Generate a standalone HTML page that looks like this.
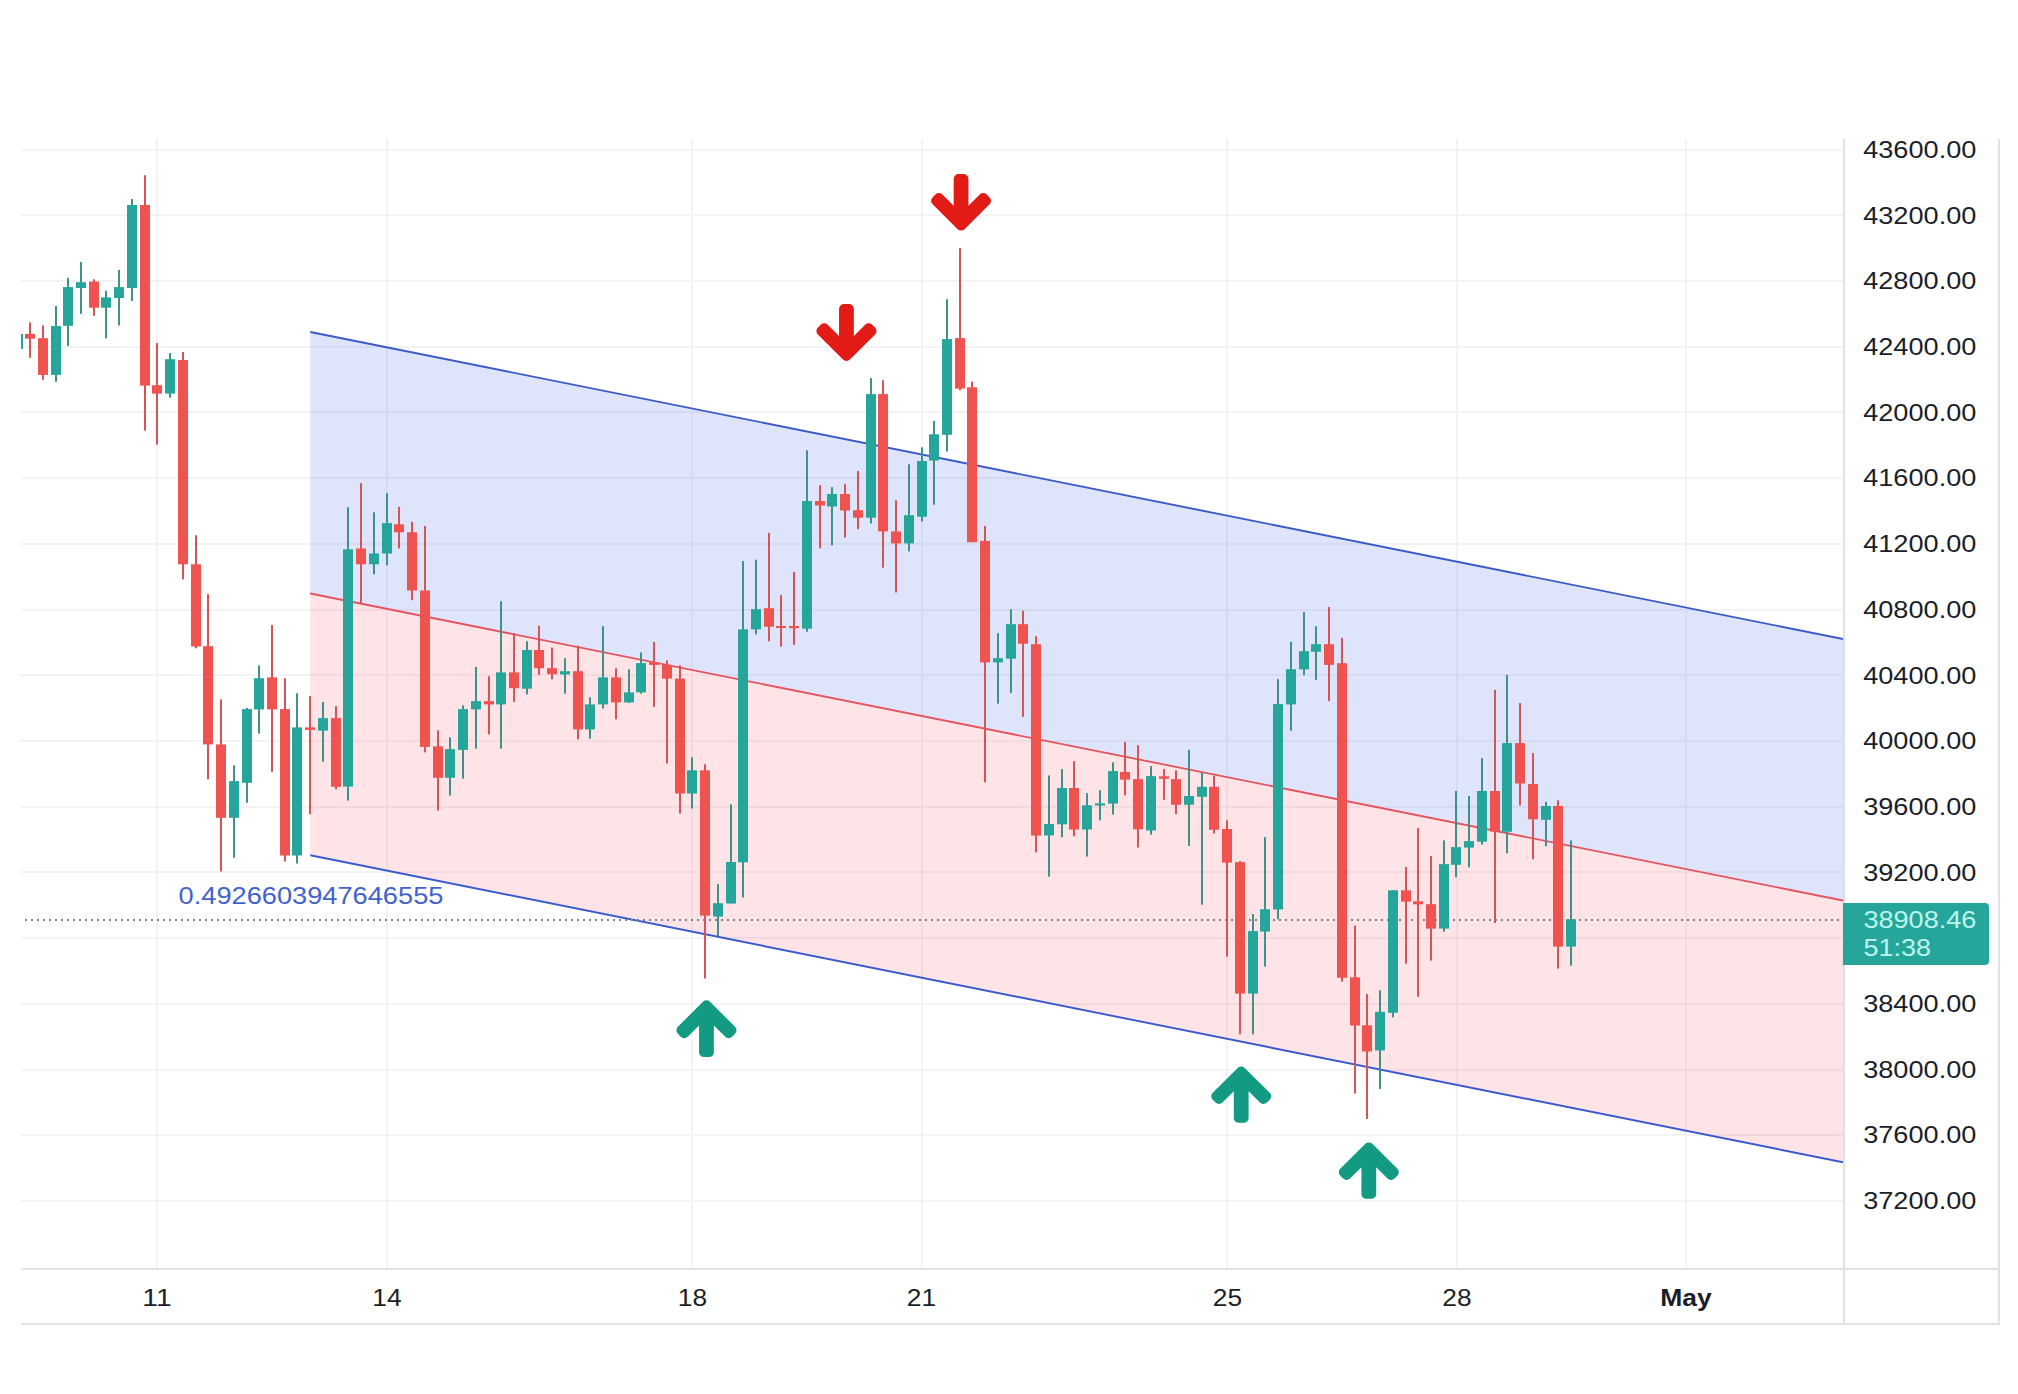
<!DOCTYPE html>
<html lang="en"><head><meta charset="utf-8"><title>Chart</title>
<style>html,body{margin:0;padding:0;background:#fff}body{width:2018px;height:1394px;overflow:hidden}svg text{white-space:pre}</style>
</head><body>
<svg width="2018" height="1394" viewBox="0 0 2018 1394" style="display:block">
<rect width="2018" height="1394" fill="#fff"/>
<defs><clipPath id="plot"><rect x="21" y="139" width="1822" height="1129"/></clipPath></defs>
<g stroke="#f3f3f5" stroke-width="2" shape-rendering="crispEdges">
<line x1="21" x2="1843" y1="150" y2="150"/>
<line x1="21" x2="1843" y1="215" y2="215"/>
<line x1="21" x2="1843" y1="281" y2="281"/>
<line x1="21" x2="1843" y1="347" y2="347"/>
<line x1="21" x2="1843" y1="412" y2="412"/>
<line x1="21" x2="1843" y1="478" y2="478"/>
<line x1="21" x2="1843" y1="544" y2="544"/>
<line x1="21" x2="1843" y1="610" y2="610"/>
<line x1="21" x2="1843" y1="675" y2="675"/>
<line x1="21" x2="1843" y1="741" y2="741"/>
<line x1="21" x2="1843" y1="807" y2="807"/>
<line x1="21" x2="1843" y1="872" y2="872"/>
<line x1="21" x2="1843" y1="938" y2="938"/>
<line x1="21" x2="1843" y1="1004" y2="1004"/>
<line x1="21" x2="1843" y1="1070" y2="1070"/>
<line x1="21" x2="1843" y1="1135" y2="1135"/>
<line x1="21" x2="1843" y1="1201" y2="1201"/>
<line x1="157" x2="157" y1="139" y2="1268"/>
<line x1="387" x2="387" y1="139" y2="1268"/>
<line x1="692" x2="692" y1="139" y2="1268"/>
<line x1="922" x2="922" y1="139" y2="1268"/>
<line x1="1227" x2="1227" y1="139" y2="1268"/>
<line x1="1457" x2="1457" y1="139" y2="1268"/>
<line x1="1686" x2="1686" y1="139" y2="1268"/>
</g>
<g clip-path="url(#plot)">
<polygon points="310.3,332.0 1843,639.0 1843,900.5 310.3,593.5" fill="#2352e4" fill-opacity="0.15"/>
<polygon points="310.3,593.5 1843,900.5 1843,1162.2 310.3,855.2" fill="#f83e4c" fill-opacity="0.14"/>
<line x1="310.3" y1="593.5" x2="1843" y2="900.5" stroke="#e2545f" stroke-width="1.8"/>
<line x1="310.3" y1="332.0" x2="1843" y2="639.0" stroke="#3a5acc" stroke-width="1.9"/>
<line x1="310.3" y1="855.2" x2="1843" y2="1162.2" stroke="#3a5acc" stroke-width="1.9"/>
<line x1="25" x2="1843" y1="920" y2="920" stroke="#788788" stroke-width="2" stroke-dasharray="2 4" shape-rendering="crispEdges"/>
<g fill="#3f9189"><rect x="55" y="306.0" width="2" height="75.8"/><rect x="67" y="277.9" width="2" height="68.0"/><rect x="80" y="262.1" width="2" height="51.7"/><rect x="105" y="290.8" width="2" height="47.4"/><rect x="118" y="269.9" width="2" height="55.4"/><rect x="131" y="199.0" width="2" height="101.9"/><rect x="169" y="353.1" width="2" height="44.5"/><rect x="233" y="765.3" width="2" height="92.4"/><rect x="246" y="707.9" width="2" height="94.9"/><rect x="258" y="665.4" width="2" height="68.2"/><rect x="296" y="693.2" width="2" height="170.3"/><rect x="322" y="701.9" width="2" height="59.9"/><rect x="347" y="507.3" width="2" height="293.2"/><rect x="373" y="512.3" width="2" height="62.0"/><rect x="386" y="493.1" width="2" height="72.2"/><rect x="449" y="737.4" width="2" height="58.2"/><rect x="462" y="705.4" width="2" height="73.2"/><rect x="475" y="666.9" width="2" height="81.7"/><rect x="500" y="601.2" width="2" height="147.4"/><rect x="526" y="641.2" width="2" height="53.2"/><rect x="564" y="658.2" width="2" height="35.5"/><rect x="589" y="697.4" width="2" height="41.2"/><rect x="602" y="626.2" width="2" height="82.4"/><rect x="628" y="669.3" width="2" height="33.6"/><rect x="640" y="652.4" width="2" height="41.2"/><rect x="691" y="757.3" width="2" height="51.2"/><rect x="717" y="884.1" width="2" height="51.9"/><rect x="730" y="804.3" width="2" height="99.2"/><rect x="742" y="561.0" width="2" height="336.5"/><rect x="755" y="559.7" width="2" height="74.7"/><rect x="806" y="450.3" width="2" height="181.4"/><rect x="831" y="487.2" width="2" height="58.2"/><rect x="870" y="378.1" width="2" height="145.4"/><rect x="908" y="464.3" width="2" height="87.1"/><rect x="921" y="447.3" width="2" height="74.2"/><rect x="933" y="421.0" width="2" height="83.7"/><rect x="946" y="299.2" width="2" height="152.3"/><rect x="997" y="633.2" width="2" height="70.4"/><rect x="1010" y="609.2" width="2" height="83.7"/><rect x="1048" y="775.4" width="2" height="101.2"/><rect x="1061" y="769.1" width="2" height="68.2"/><rect x="1086" y="793.1" width="2" height="63.5"/><rect x="1099" y="790.1" width="2" height="30.3"/><rect x="1112" y="762.4" width="2" height="52.2"/><rect x="1150" y="766.1" width="2" height="68.6"/><rect x="1188" y="749.8" width="2" height="96.2"/><rect x="1201" y="772.3" width="2" height="132.4"/><rect x="1252" y="914.0" width="2" height="120.3"/><rect x="1264" y="837.1" width="2" height="129.5"/><rect x="1277" y="679.2" width="2" height="240.1"/><rect x="1290" y="641.9" width="2" height="88.9"/><rect x="1303" y="612.0" width="2" height="63.4"/><rect x="1315" y="626.2" width="2" height="53.7"/><rect x="1379" y="990.3" width="2" height="98.7"/><rect x="1392" y="890.3" width="2" height="127.0"/><rect x="1443" y="840.4" width="2" height="91.2"/><rect x="1455" y="791.0" width="2" height="86.3"/><rect x="1468" y="796.0" width="2" height="71.3"/><rect x="1481" y="758.1" width="2" height="86.5"/><rect x="1506" y="674.9" width="2" height="178.4"/><rect x="1545" y="801.8" width="2" height="44.5"/><rect x="1570" y="840.4" width="2" height="125.2"/></g><g fill="#d4545a"><rect x="29" y="322.4" width="2" height="35.3"/><rect x="42" y="325.3" width="2" height="54.5"/><rect x="93" y="279.3" width="2" height="36.5"/><rect x="144" y="175.2" width="2" height="255.5"/><rect x="156" y="343.0" width="2" height="101.6"/><rect x="182" y="352.0" width="2" height="227.3"/><rect x="195" y="535.3" width="2" height="113.0"/><rect x="207" y="594.2" width="2" height="185.1"/><rect x="220" y="699.4" width="2" height="172.1"/><rect x="271" y="625.0" width="2" height="146.8"/><rect x="284" y="678.2" width="2" height="183.3"/><rect x="309" y="696.2" width="2" height="118.1"/><rect x="335" y="706.1" width="2" height="83.2"/><rect x="360" y="483.1" width="2" height="120.4"/><rect x="398" y="506.8" width="2" height="41.7"/><rect x="411" y="521.8" width="2" height="78.4"/><rect x="424" y="526.0" width="2" height="226.3"/><rect x="437" y="730.4" width="2" height="80.1"/><rect x="488" y="676.2" width="2" height="58.2"/><rect x="513" y="633.2" width="2" height="68.7"/><rect x="538" y="625.7" width="2" height="49.2"/><rect x="551" y="647.5" width="2" height="31.9"/><rect x="577" y="645.5" width="2" height="93.9"/><rect x="615" y="668.4" width="2" height="50.9"/><rect x="653" y="641.9" width="2" height="65.0"/><rect x="666" y="660.4" width="2" height="103.1"/><rect x="679" y="665.4" width="2" height="148.1"/><rect x="704" y="764.3" width="2" height="214.2"/><rect x="768" y="532.9" width="2" height="108.3"/><rect x="780" y="595.0" width="2" height="51.7"/><rect x="793" y="572.0" width="2" height="72.9"/><rect x="819" y="485.2" width="2" height="63.2"/><rect x="844" y="484.2" width="2" height="53.5"/><rect x="857" y="471.0" width="2" height="58.2"/><rect x="882" y="380.3" width="2" height="187.4"/><rect x="895" y="500.2" width="2" height="92.3"/><rect x="959" y="248.2" width="2" height="142.1"/><rect x="971" y="381.8" width="2" height="160.4"/><rect x="984" y="526.0" width="2" height="256.3"/><rect x="1022" y="610.7" width="2" height="106.1"/><rect x="1035" y="636.2" width="2" height="216.1"/><rect x="1073" y="761.1" width="2" height="75.2"/><rect x="1124" y="741.9" width="2" height="53.4"/><rect x="1137" y="745.2" width="2" height="102.3"/><rect x="1163" y="769.1" width="2" height="30.7"/><rect x="1175" y="770.3" width="2" height="43.7"/><rect x="1213" y="775.6" width="2" height="57.9"/><rect x="1226" y="820.3" width="2" height="136.3"/><rect x="1239" y="861.0" width="2" height="173.3"/><rect x="1328" y="607.0" width="2" height="94.1"/><rect x="1341" y="637.9" width="2" height="343.7"/><rect x="1354" y="925.6" width="2" height="167.9"/><rect x="1366" y="994.1" width="2" height="124.8"/><rect x="1405" y="867.0" width="2" height="96.6"/><rect x="1417" y="828.1" width="2" height="168.7"/><rect x="1430" y="856.1" width="2" height="104.5"/><rect x="1494" y="689.9" width="2" height="233.1"/><rect x="1519" y="703.1" width="2" height="102.4"/><rect x="1532" y="753.1" width="2" height="106.1"/><rect x="1557" y="800.3" width="2" height="168.3"/></g>
<g fill="#26a69a"><rect x="51" y="326.1" width="10" height="48.8"/><rect x="63" y="287.1" width="10" height="38.7"/><rect x="76" y="282.2" width="10" height="5.8"/><rect x="101" y="297.4" width="10" height="10.3"/><rect x="114" y="287.1" width="10" height="10.9"/><rect x="127" y="205.0" width="10" height="83.0"/><rect x="165" y="359.2" width="10" height="34.4"/><rect x="229" y="781.1" width="10" height="36.7"/><rect x="242" y="709.1" width="10" height="73.7"/><rect x="254" y="678.2" width="10" height="31.2"/><rect x="292" y="727.4" width="10" height="128.1"/><rect x="318" y="718.1" width="10" height="12.5"/><rect x="343" y="549.3" width="10" height="237.3"/><rect x="369" y="553.5" width="10" height="10.8"/><rect x="382" y="523.1" width="10" height="30.4"/><rect x="445" y="749.1" width="10" height="28.7"/><rect x="458" y="709.1" width="10" height="40.8"/><rect x="471" y="701.1" width="10" height="8.3"/><rect x="496" y="672.4" width="10" height="32.0"/><rect x="522" y="650.0" width="10" height="38.7"/><rect x="560" y="671.2" width="10" height="3.2"/><rect x="585" y="704.4" width="10" height="25.0"/><rect x="598" y="677.4" width="10" height="27.0"/><rect x="624" y="692.4" width="10" height="10.0"/><rect x="636" y="663.1" width="10" height="29.3"/><rect x="687" y="770.3" width="10" height="23.2"/><rect x="713" y="903.2" width="10" height="13.4"/><rect x="726" y="862.0" width="10" height="41.5"/><rect x="738" y="629.4" width="10" height="232.9"/><rect x="751" y="609.2" width="10" height="20.2"/><rect x="802" y="501.0" width="10" height="127.7"/><rect x="827" y="494.0" width="10" height="12.5"/><rect x="866" y="394.1" width="10" height="123.6"/><rect x="904" y="515.2" width="10" height="28.2"/><rect x="917" y="461.0" width="10" height="55.7"/><rect x="929" y="434.3" width="10" height="26.2"/><rect x="942" y="339.1" width="10" height="95.7"/><rect x="993" y="658.2" width="10" height="4.2"/><rect x="1006" y="624.2" width="10" height="34.5"/><rect x="1044" y="824.1" width="10" height="11.4"/><rect x="1057" y="788.0" width="10" height="36.3"/><rect x="1082" y="805.3" width="10" height="24.2"/><rect x="1095" y="803.3" width="10" height="2.2"/><rect x="1108" y="771.1" width="10" height="32.5"/><rect x="1146" y="776.1" width="10" height="54.4"/><rect x="1184" y="796.0" width="10" height="8.8"/><rect x="1197" y="786.8" width="10" height="10.0"/><rect x="1248" y="931.1" width="10" height="62.5"/><rect x="1260" y="909.2" width="10" height="22.4"/><rect x="1273" y="704.1" width="10" height="205.4"/><rect x="1286" y="669.2" width="10" height="35.2"/><rect x="1299" y="651.2" width="10" height="18.2"/><rect x="1311" y="644.2" width="10" height="7.5"/><rect x="1375" y="1011.8" width="10" height="38.7"/><rect x="1388" y="890.3" width="10" height="122.5"/><rect x="1439" y="864.1" width="10" height="64.5"/><rect x="1451" y="847.1" width="10" height="17.7"/><rect x="1464" y="841.1" width="10" height="6.5"/><rect x="1477" y="791.0" width="10" height="50.7"/><rect x="1502" y="743.1" width="10" height="88.6"/><rect x="1541" y="806.0" width="10" height="13.8"/><rect x="1566" y="919.3" width="10" height="27.3"/><rect x="21" y="334" width="2" height="15"/></g>
<g fill="#ef5350"><rect x="25" y="333.9" width="10" height="4.8"/><rect x="38" y="338.2" width="10" height="36.7"/><rect x="89" y="281.6" width="10" height="26.1"/><rect x="140" y="205.0" width="10" height="180.6"/><rect x="152" y="385.2" width="10" height="8.4"/><rect x="178" y="360.0" width="10" height="204.3"/><rect x="191" y="564.3" width="10" height="82.2"/><rect x="203" y="646.2" width="10" height="98.2"/><rect x="216" y="744.4" width="10" height="73.4"/><rect x="267" y="677.4" width="10" height="32.0"/><rect x="280" y="709.1" width="10" height="146.4"/><rect x="305" y="727.4" width="10" height="2.5"/><rect x="331" y="718.1" width="10" height="68.7"/><rect x="356" y="548.5" width="10" height="15.8"/><rect x="394" y="524.3" width="10" height="8.0"/><rect x="407" y="532.3" width="10" height="58.2"/><rect x="420" y="590.5" width="10" height="156.4"/><rect x="433" y="746.4" width="10" height="31.4"/><rect x="484" y="701.1" width="10" height="3.3"/><rect x="509" y="672.4" width="10" height="15.8"/><rect x="534" y="650.0" width="10" height="18.2"/><rect x="547" y="668.2" width="10" height="6.0"/><rect x="573" y="671.2" width="10" height="58.2"/><rect x="611" y="677.4" width="10" height="25.0"/><rect x="649" y="662.4" width="10" height="2.5"/><rect x="662" y="664.9" width="10" height="13.7"/><rect x="675" y="678.6" width="10" height="114.9"/><rect x="700" y="770.3" width="10" height="145.3"/><rect x="764" y="608.2" width="10" height="18.5"/><rect x="776" y="626.0" width="10" height="2.0"/><rect x="789" y="626.0" width="10" height="2.2"/><rect x="815" y="501.0" width="10" height="4.5"/><rect x="840" y="494.0" width="10" height="16.5"/><rect x="853" y="510.2" width="10" height="7.5"/><rect x="878" y="394.1" width="10" height="137.3"/><rect x="891" y="531.4" width="10" height="12.0"/><rect x="955" y="338.1" width="10" height="50.5"/><rect x="967" y="387.3" width="10" height="154.9"/><rect x="980" y="540.9" width="10" height="121.5"/><rect x="1018" y="624.2" width="10" height="19.5"/><rect x="1031" y="644.2" width="10" height="191.3"/><rect x="1069" y="788.0" width="10" height="41.5"/><rect x="1120" y="771.9" width="10" height="7.7"/><rect x="1133" y="779.1" width="10" height="50.2"/><rect x="1159" y="776.3" width="10" height="2.5"/><rect x="1171" y="779.1" width="10" height="25.7"/><rect x="1209" y="786.8" width="10" height="43.0"/><rect x="1222" y="829.0" width="10" height="33.6"/><rect x="1235" y="862.1" width="10" height="131.5"/><rect x="1324" y="644.2" width="10" height="20.7"/><rect x="1337" y="663.2" width="10" height="314.6"/><rect x="1350" y="977.3" width="10" height="48.2"/><rect x="1362" y="1025.3" width="10" height="26.2"/><rect x="1401" y="890.3" width="10" height="11.3"/><rect x="1413" y="901.3" width="10" height="3.0"/><rect x="1426" y="904.2" width="10" height="24.4"/><rect x="1490" y="791.0" width="10" height="40.7"/><rect x="1515" y="743.1" width="10" height="40.4"/><rect x="1528" y="784.0" width="10" height="35.3"/><rect x="1553" y="806.0" width="10" height="140.6"/></g>
</g>
<path transform="matrix(0.03845 0 0 -0.03817 929.06 227.74)" d="M1611 704q0 -53 -37 -90l-651 -652q-39 -37 -91 -37q-53 0 -90 37l-651 652q-38 36 -38 90q0 53 38 91l74 75q39 37 91 37q53 0 90 -37l294 -294v704q0 52 38 90t90 38h128q52 0 90 -38t38 -90v-704l294 294q37 37 90 37q52 0 91 -37l75 -75q37 -39 37 -91z" fill="#e31b17"/>
<path transform="matrix(0.03858 0 0 -0.03837 814.36 358.02)" d="M1611 704q0 -53 -37 -90l-651 -652q-39 -37 -91 -37q-53 0 -90 37l-651 652q-38 36 -38 90q0 53 38 91l74 75q39 37 91 37q53 0 90 -37l294 -294v704q0 52 38 90t90 38h128q52 0 90 -38t38 -90v-704l294 294q37 37 90 37q52 0 91 -37l75 -75q37 -39 37 -91z" fill="#e31b17"/>
<path transform="matrix(0.03858 0 0 -0.03852 674.36 1052.07)" d="M1611 565q0 -51 -37 -90l-75 -75q-38 -38 -91 -38q-54 0 -90 38l-294 293v-704q0 -52 -37.5 -84.5t-90.5 -32.5h-128q-53 0 -90.5 32.5t-37.5 84.5v704l-294 -293q-36 -38 -90 -38t-90 38l-75 75q-38 38 -38 90q0 53 38 91l651 651q35 37 90 37q54 0 91 -37l651 -651q37 -39 37 -91z" fill="#129a82"/>
<path transform="matrix(0.03851 0 0 -0.03818 1209.16 1117.81)" d="M1611 565q0 -51 -37 -90l-75 -75q-38 -38 -91 -38q-54 0 -90 38l-294 293v-704q0 -52 -37.5 -84.5t-90.5 -32.5h-128q-53 0 -90.5 32.5t-37.5 84.5v704l-294 -293q-36 -38 -90 -38t-90 38l-75 75q-38 38 -38 90q0 53 38 91l651 651q35 37 90 37q54 0 91 -37l651 -651q37 -39 37 -91z" fill="#129a82"/>
<path transform="matrix(0.03851 0 0 -0.03832 1336.76 1193.90)" d="M1611 565q0 -51 -37 -90l-75 -75q-38 -38 -91 -38q-54 0 -90 38l-294 293v-704q0 -52 -37.5 -84.5t-90.5 -32.5h-128q-53 0 -90.5 32.5t-37.5 84.5v704l-294 -293q-36 -38 -90 -38t-90 38l-75 75q-38 38 -38 90q0 53 38 91l651 651q35 37 90 37q54 0 91 -37l651 -651q37 -39 37 -91z" fill="#129a82"/>
<text x="178.6" y="903.6" font-family="Liberation Sans, Arial, sans-serif" font-size="23.2" fill="#4363cc" textLength="264.8" lengthAdjust="spacingAndGlyphs">0.4926603947646555</text>
<g stroke="#e0e1e5" stroke-width="2" shape-rendering="crispEdges">
<line x1="1844" x2="1844" y1="139" y2="1325"/>
<line x1="1999" x2="1999" y1="139" y2="1325"/>
<line x1="21" x2="2000" y1="1269" y2="1269"/>
<line x1="21" x2="2000" y1="1324" y2="1324"/>
</g>
<g font-family="Liberation Sans, Arial, sans-serif" font-size="23.2" fill="#1a1e29">
<text x="1863.2" y="157.9" textLength="113.2" lengthAdjust="spacingAndGlyphs">43600.00</text>
<text x="1863.2" y="223.6" textLength="113.2" lengthAdjust="spacingAndGlyphs">43200.00</text>
<text x="1863.2" y="289.3" textLength="113.2" lengthAdjust="spacingAndGlyphs">42800.00</text>
<text x="1863.2" y="355.0" textLength="113.2" lengthAdjust="spacingAndGlyphs">42400.00</text>
<text x="1863.2" y="420.7" textLength="113.2" lengthAdjust="spacingAndGlyphs">42000.00</text>
<text x="1863.2" y="486.4" textLength="113.2" lengthAdjust="spacingAndGlyphs">41600.00</text>
<text x="1863.2" y="552.1" textLength="113.2" lengthAdjust="spacingAndGlyphs">41200.00</text>
<text x="1863.2" y="617.8" textLength="113.2" lengthAdjust="spacingAndGlyphs">40800.00</text>
<text x="1863.2" y="683.5" textLength="113.2" lengthAdjust="spacingAndGlyphs">40400.00</text>
<text x="1863.2" y="749.2" textLength="113.2" lengthAdjust="spacingAndGlyphs">40000.00</text>
<text x="1863.2" y="814.9" textLength="113.2" lengthAdjust="spacingAndGlyphs">39600.00</text>
<text x="1863.2" y="880.6" textLength="113.2" lengthAdjust="spacingAndGlyphs">39200.00</text>
<text x="1863.2" y="1012.0" textLength="113.2" lengthAdjust="spacingAndGlyphs">38400.00</text>
<text x="1863.2" y="1077.7" textLength="113.2" lengthAdjust="spacingAndGlyphs">38000.00</text>
<text x="1863.2" y="1143.4" textLength="113.2" lengthAdjust="spacingAndGlyphs">37600.00</text>
<text x="1863.2" y="1209.1" textLength="113.2" lengthAdjust="spacingAndGlyphs">37200.00</text>
</g>
<path d="M1843 903H1985a4 4 0 0 1 4 4V961a4 4 0 0 1 -4 4H1843z" fill="#26a69a"/>
<g font-family="Liberation Sans, Arial, sans-serif" font-size="23.2" fill="#bdf6ee">
<text x="1863.4" y="928" textLength="113" lengthAdjust="spacingAndGlyphs">38908.46</text>
<text x="1863.6" y="955.6" textLength="67.5" lengthAdjust="spacingAndGlyphs">51:38</text>
</g>
<g font-family="Liberation Sans, Arial, sans-serif" font-size="23.2" fill="#1a1e29" text-anchor="middle">
<text x="157" y="1305.6" textLength="29.3" lengthAdjust="spacingAndGlyphs">11</text>
<text x="387" y="1305.6" textLength="29.3" lengthAdjust="spacingAndGlyphs">14</text>
<text x="692.4" y="1305.6" textLength="29.3" lengthAdjust="spacingAndGlyphs">18</text>
<text x="921.5" y="1305.6" textLength="29.3" lengthAdjust="spacingAndGlyphs">21</text>
<text x="1227.5" y="1305.6" textLength="29.3" lengthAdjust="spacingAndGlyphs">25</text>
<text x="1457" y="1305.6" textLength="29.3" lengthAdjust="spacingAndGlyphs">28</text>
<text x="1686" y="1305.6" font-weight="bold" textLength="51.5" lengthAdjust="spacingAndGlyphs">May</text>
</g>
</svg>
</body></html>
